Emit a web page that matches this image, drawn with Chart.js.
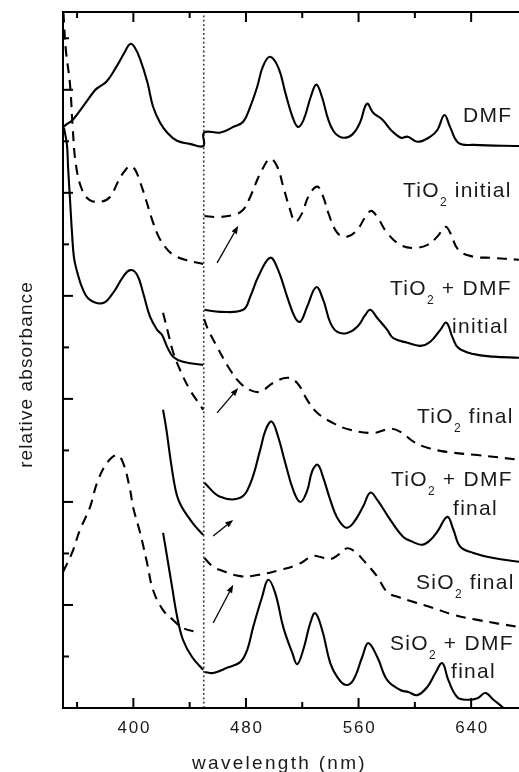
<!DOCTYPE html>
<html><head><meta charset="utf-8">
<script src="https://cdn.jsdelivr.net/npm/chart.js@4.4.1/dist/chart.umd.min.js"></script>
<style>html,body{margin:0;padding:0;background:#fff;}canvas{display:block;}</style>
</head><body>
<canvas id="c" width="519" height="772"></canvas>
<script>
// ---- data: [wavelength (nm), relative absorbance (offset units)]; null = break at 450 nm ----
const dmf = [[350.5,11.28],[352,11.32],[357,11.42],[364,11.67],[373,12.00],[376,12.06],[381,12.16],[388,12.45],[394,12.74],[397.7,12.89],[401,12.82],[405,12.58],[410,12.14],[414,11.67],[419,11.36],[424,11.17],[431,11.01],[440,10.95],[449.8,10.91],
  [450.2,11.17],[462,11.17],[471,11.28],[478,11.38],[483,11.67],[488,12.06],[492,12.45],[497,12.64],[503,12.43],[508,11.94],[513,11.48],[517,11.28],[521,11.42],[526,11.86],[530,12.10],[534,11.86],[538.5,11.42],[543,11.17],[549,11.07],[555.5,11.13],[561,11.36],[566,11.73],[570.5,11.55],[577,11.42],[583,11.22],[590,11.07],[595,11.09],[602,10.99],[611,11.09],[616,11.22],[621,11.51],[625,11.28],[631,10.97],[642,10.93],[674,10.91]];
const tio2Initial = [[350.3,13.5],[352,12.78],[355,12.10],[357,11.22],[359.2,10.54],[363.5,10.06],[369,9.86],[377,9.83],[383.4,9.92],[389,10.21],[393.4,10.41],[397.7,10.52],[401.2,10.45],[404.8,10.21],[409,9.86],[413.3,9.48],[417.6,9.17],[422.5,8.95],[428.2,8.80],[436.8,8.70],[449.6,8.62],[450,null],
  [450.5,9.55],[459.5,9.53],[471,9.57],[478,9.67],[483,9.92],[486.6,10.16],[491.5,10.45],[497.2,10.66],[502.2,10.51],[506.5,10.12],[511.4,9.67],[515,9.44],[520,9.61],[524.2,9.92],[530.6,10.12],[534.9,9.92],[538.5,9.61],[545,9.22],[552,9.15],[559,9.28],[564.8,9.53],[569,9.65],[573.3,9.53],[580.4,9.22],[589.7,8.99],[599,8.93],[609,8.99],[616,9.15],[621.7,9.34],[625.2,9.22],[631,8.89],[641.6,8.76],[653.7,8.74],[674,8.70]];
const tio2DmfInitial = [[350.7,11.26],[352.8,10.93],[353.6,10.50],[355,9.86],[356.4,9.22],[357.8,8.74],[360,8.47],[364.2,8.12],[369.2,7.92],[378.4,7.86],[385.6,8.06],[392.7,8.37],[397.7,8.50],[402.6,8.41],[406.9,8.06],[411.9,7.59],[416.9,7.34],[420.4,7.24],[424,7.01],[428.2,6.82],[435.3,6.72],[449.6,6.66],[450,null],
  [450.5,7.73],[461.7,7.69],[478,7.73],[483,7.98],[488.7,8.37],[497.2,8.74],[502.9,8.50],[509.3,7.98],[515,7.57],[518.6,7.50],[523.5,7.79],[529.9,8.17],[534.9,7.92],[539.9,7.48],[544.9,7.30],[552,7.28],[559.1,7.40],[564.8,7.63],[568.3,7.73],[573.3,7.57],[580.4,7.34],[584.7,7.18],[594.7,7.09],[603.9,7.03],[611,7.11],[618.1,7.34],[622.4,7.48],[626.7,7.20],[630.9,6.99],[641.6,6.87],[655.8,6.82],[674,6.80]];
const tio2Final = [[421.1,7.67],[424.7,7.28],[428.2,6.91],[433.2,6.56],[440.3,6.17],[447.4,5.88],[449.6,5.79],[450,null],
  [450.3,7.55],[453,7.35],[459.5,7.01],[468.8,6.56],[475.9,6.31],[483,6.17],[490.1,6.14],[499.4,6.31],[509.3,6.41],[516.4,6.31],[523.5,5.98],[530.6,5.73],[542,5.53],[554,5.40],[570.5,5.34],[582.6,5.42],[589.7,5.36],[599,5.17],[609,5.05],[623,4.97],[644.4,4.91],[674,4.82]];
const tio2DmfFinal = [[421.1,5.79],[423.5,5.40],[426,4.90],[428.5,4.45],[431,4.12],[434,3.92],[438,3.75],[443,3.56],[449.6,3.36],[450,null],
  [450.5,4.37],[461.7,4.10],[475.9,4.08],[483,4.35],[490.1,5.01],[494,5.40],[498.3,5.56],[502.9,5.26],[507.9,4.76],[513.6,4.23],[518.6,4.00],[523.5,4.22],[527.1,4.60],[531,4.72],[534.9,4.47],[539.9,4.04],[544.9,3.69],[551,3.50],[556.2,3.59],[563.4,3.92],[568.3,4.18],[573.3,4.04],[582.6,3.65],[591.8,3.32],[598.9,3.22],[605.3,3.17],[611,3.26],[615.9,3.42],[623.1,3.71],[627.4,3.46],[632.3,3.13],[641.6,3.01],[655.8,2.91],[674,2.84]];
const sio2Final = [[350,2.64],[356.4,3.01],[362.1,3.46],[369.2,3.90],[374.2,4.37],[381.3,4.76],[388.4,4.91],[392.7,4.76],[397.7,4.23],[399.8,3.90],[404.8,3.40],[409.7,2.82],[414,2.29],[421.1,1.90],[428.2,1.71],[435.3,1.55],[446,1.47],[450,null],
  [450.5,2.91],[456.7,2.74],[461.7,2.68],[475.9,2.56],[488,2.58],[504.3,2.68],[516.4,2.78],[527.8,2.95],[533,2.93],[539.9,2.89],[546,2.98],[552,3.10],[558,3.02],[563.4,2.87],[573.3,2.55],[580.4,2.25],[589.7,2.14],[598.9,2.06],[613.1,1.94],[627.4,1.81],[644.4,1.71],[674,1.57]];
const sio2DmfFinal = [[421.1,3.40],[424,2.93],[427.5,2.35],[431.1,1.77],[435.3,1.32],[441.7,0.99],[449.6,0.74],[450,null],
  [450.5,0.70],[456.7,0.68],[466.6,0.78],[475.9,0.89],[480.9,1.13],[485.1,1.57],[491.5,2.16],[495.8,2.49],[500.8,2.23],[506.5,1.57],[512.9,1.07],[516.4,0.85],[520.7,1.13],[525.7,1.65],[529.2,1.84],[534.2,1.51],[539.9,0.87],[544.9,0.60],[550.6,0.45],[556.2,0.54],[562.6,0.99],[566.9,1.26],[573.3,0.99],[580.4,0.54],[589.7,0.35],[595.4,0.31],[601.8,0.25],[608.9,0.41],[614.6,0.68],[619.5,0.87],[623.8,0.54],[630.2,0.21],[637.3,0.16],[644.4,0.19],[650.1,0.29],[655.8,0.16],[662.2,0.02],[674,-0.3]];
const breakWavelength = 450;
// arrows: [tail wavelength, tail value, head wavelength, head value]
const arrows = [[459.5,8.64,474.5,9.36],[459.5,5.73,474.5,6.21],[456.7,3.34,470.9,3.65],[456.7,1.65,470.9,2.39]];
const xMajorTicks = [400,480,560,640];
const xMinorTicks = [360,440,520,600];
const yMajorTicks = [2,4,6,8,10,12];
const yMinorTicks = [1,3,5,7,9,11,13];
const xTickLabels = ['400','480','560','640'];
const xTitle = 'wavelength (nm)';
const yTitle = 'relative absorbance';
// label parts: odd index = subscript
const curveLabels = [['DMF'],['TiO','2',' initial'],['TiO','2',' + DMF'],['initial'],['TiO','2',' final'],['TiO','2',' + DMF'],['final'],['SiO','2',' final'],['SiO','2',' + DMF'],['final']];

// ---- layout / style ----
const labelPos = [[463,122],[403,197],[390,295],[452,333],[417,423],[391,486],[453,515],[416,589],[390,650],[451,678]];
const FONT = '"Liberation Sans", Arial, Helvetica, sans-serif';
const TXT = '#1a1a1a';

function pts(arr){ return arr.map(p => ({x:p[0], y:p[1]})); }
function ds(arr, dashed){
  return {data: pts(arr), borderColor:'#000', borderWidth:2.1, pointRadius:0, fill:false,
    borderDash: dashed ? [10,7] : [], tension:0.4, spanGaps:false};
}

const decor = {
  id:'decor',
  afterDatasetsDraw(chart){
    const ctx = chart.ctx, xs = chart.scales.x, ys = chart.scales.y, a = chart.chartArea;
    ctx.save();
    // arrows
    ctx.strokeStyle = '#000'; ctx.fillStyle = '#000'; ctx.lineWidth = 1.3;
    arrows.forEach(ar => {
      const x1 = xs.getPixelForValue(ar[0]), y1 = ys.getPixelForValue(ar[1]);
      const x2 = xs.getPixelForValue(ar[2]), y2 = ys.getPixelForValue(ar[3]);
      const ang = Math.atan2(y2-y1, x2-x1), L = 8, W = 3;
      const bx = x2 - L*Math.cos(ang), by = y2 - L*Math.sin(ang);
      ctx.beginPath(); ctx.moveTo(x1,y1); ctx.lineTo(bx,by); ctx.stroke();
      ctx.beginPath(); ctx.moveTo(x2,y2);
      ctx.lineTo(bx + W*Math.sin(ang), by - W*Math.cos(ang));
      ctx.lineTo(bx - W*Math.sin(ang), by + W*Math.cos(ang));
      ctx.closePath(); ctx.fill();
    });
    // frame (left, top, bottom)
    ctx.strokeStyle = '#000'; ctx.lineWidth = 2;
    ctx.beginPath();
    ctx.moveTo(a.right+2, a.top); ctx.lineTo(a.left, a.top); ctx.lineTo(a.left, a.bottom); ctx.lineTo(a.right+2, a.bottom);
    ctx.stroke();
    // ticks inward
    const tick = (v, len) => {
      const px = xs.getPixelForValue(v);
      ctx.beginPath(); ctx.moveTo(px, a.bottom); ctx.lineTo(px, a.bottom-len);
      ctx.moveTo(px, a.top); ctx.lineTo(px, a.top+len); ctx.stroke();
    };
    xMajorTicks.forEach(v => tick(v, 10)); xMinorTicks.forEach(v => tick(v, 6));
    const ytick = (v, len) => {
      const py = ys.getPixelForValue(v);
      ctx.beginPath(); ctx.moveTo(a.left, py); ctx.lineTo(a.left+len, py); ctx.stroke();
    };
    yMajorTicks.forEach(v => ytick(v, 10)); yMinorTicks.forEach(v => ytick(v, 6));
    // tick labels
    ctx.fillStyle = TXT;
    ctx.font = '17px ' + FONT; ctx.textAlign = 'center'; ctx.textBaseline = 'alphabetic';
    ctx.letterSpacing = '1.8px';
    xMajorTicks.forEach((v,i) => ctx.fillText(xTickLabels[i], xs.getPixelForValue(v)+1, 733));
    // axis titles
    ctx.font = '19px ' + FONT; ctx.letterSpacing = '2.3px';
    ctx.fillText(xTitle, 279.5, 769);
    ctx.save(); ctx.translate(32, 374.5); ctx.rotate(-Math.PI/2);
    ctx.letterSpacing = '1.1px';
    ctx.fillText(yTitle, 0, 0);
    ctx.restore();
    // curve labels
    ctx.textAlign = 'left';
    curveLabels.forEach((parts, i) => {
      let x = labelPos[i][0]; const y = labelPos[i][1];
      parts.forEach((t, j) => {
        const sub = j % 2 === 1;
        ctx.font = (sub ? '12px ' : '21px ') + FONT;
        ctx.letterSpacing = sub ? '0px' : '1.3px';
        ctx.fillText(t, x, sub ? y + 9 : y);
        x += ctx.measureText(t).width + (sub ? 1 : 0);
      });
    });
    ctx.restore();
  }
};

new Chart(document.getElementById('c'), {
  type:'line',
  data:{ datasets:[
    ds(dmf,false), ds(tio2Initial,true), ds(tio2DmfInitial,false), ds(tio2Final,true),
    ds(tio2DmfFinal,false), ds(sio2Final,true), ds(sio2DmfFinal,false),
    {data:[{x:breakWavelength,y:0},{x:breakWavelength,y:13.51}], borderColor:'#333', borderWidth:1.6, borderDash:[1.8,2.6], pointRadius:0, tension:0}
  ]},
  options:{
    responsive:false, devicePixelRatio:1, animation:false,
    layout:{padding:{left:63, top:12, right:0, bottom:64}},
    plugins:{legend:{display:false}, tooltip:{enabled:false}, title:{display:false}},
    scales:{
      x:{type:'linear', min:350, max:674, display:false},
      y:{type:'linear', min:0, max:13.51, display:false}
    }
  },
  plugins:[decor]
});
</script>
</body></html>
